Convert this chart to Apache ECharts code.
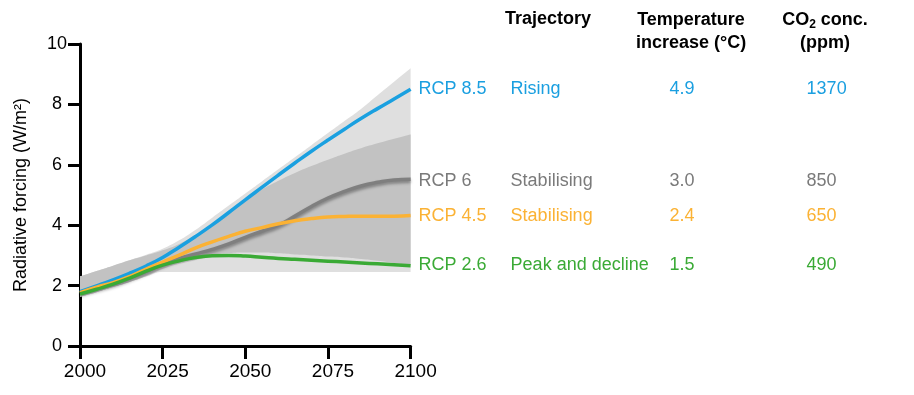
<!DOCTYPE html>
<html>
<head>
<meta charset="utf-8">
<script src="https://cdn.jsdelivr.net/npm/echarts@6/dist/echarts.min.js"></script>
<style>
html,body{margin:0;padding:0;background:#fff;}
#chart{width:914px;height:395px;}
</style>
</head>
<body>
<div id="chart"></div>
<script>
// ---------- data ----------
const years = ['2000','2005','2010','2015','2020','2025','2030','2035','2040','2045','2050','2055','2060','2065','2070','2075','2080','2085','2090','2095','2100'];

const rcp85 = [1.8, 1.99, 2.19, 2.41, 2.65, 2.93, 3.27, 3.63, 4.01, 4.42, 4.84, 5.25, 5.66, 6.06, 6.45, 6.82, 7.18, 7.53, 7.86, 8.18, 8.5];
const rcp6  = [1.75, 1.9, 2.05, 2.25, 2.47, 2.7, 2.9, 3.05, 3.2, 3.38, 3.6, 3.8, 4.0, 4.3, 4.62, 4.9, 5.12, 5.3, 5.42, 5.5, 5.52];
const rcp45 = [1.77, 1.95, 2.1, 2.3, 2.55, 2.78, 3.01, 3.25, 3.45, 3.63, 3.8, 3.92, 4.05, 4.15, 4.22, 4.27, 4.29, 4.3, 4.3, 4.3, 4.32];
const rcp26 = [1.72, 1.88, 2.05, 2.25, 2.48, 2.68, 2.82, 2.93, 2.99, 3.0, 2.98, 2.94, 2.9, 2.87, 2.84, 2.81, 2.78, 2.75, 2.72, 2.69, 2.66];

// uncertainty ranges (outer = light, inner = dark)
const outerLow  = [1.63, 1.78, 1.95, 2.12, 2.3, 2.45, 2.45, 2.45, 2.45, 2.45, 2.45, 2.45, 2.45, 2.45, 2.45, 2.45, 2.45, 2.45, 2.45, 2.45, 2.45];
const outerHigh = [2.3, 2.48, 2.66, 2.84, 3.02, 3.22, 3.5, 3.85, 4.25, 4.65, 5.05, 5.45, 5.85, 6.25, 6.65, 7.05, 7.45, 7.85, 8.3, 8.75, 9.2];
const innerLow  = [1.63, 1.78, 1.95, 2.12, 2.32, 2.55, 2.72, 2.85, 3.0, 3.08, 3.1, 3.1, 3.07, 3.03, 3.0, 2.96, 2.93, 2.88, 2.82, 2.75, 2.68];
const innerHigh = [2.3, 2.48, 2.66, 2.84, 3.0, 3.17, 3.38, 3.68, 4.01, 4.42, 4.84, 5.18, 5.47, 5.73, 5.96, 6.17, 6.37, 6.55, 6.71, 6.86, 7.0];

// table columns
const scenarioNames = ['RCP 8.5', 'RCP 6', 'RCP 4.5', 'RCP 2.6'];
const trajectories  = ['Rising', 'Stabilising', 'Stabilising', 'Peak and decline'];
const tempIncrease  = ['4.9', '3.0', '2.4', '1.5'];
const co2Conc       = ['1370', '850', '650', '490'];
const headerTrajectory = 'Trajectory';
const headerTemp = ['Temperature', 'increase (°C)'];
const headerCO2  = ['CO', '2', ' conc.', '(ppm)'];

const yAxisName = 'Radiative forcing (W/m²)';

// ---------- styles ----------
const FONT = 'Liberation Sans, Arial, sans-serif';
const colors = { rcp85: '#1aa0e0', rcp6: '#7f7f7f', rcp45: '#fbb234', rcp26: '#3aaa35' };
const textColors = ['#1a9fe0', '#7a7a7a', '#fbb234', '#3aaa35'];

function rowLabel(i) {
  return function () {
    return '{n|' + scenarioNames[i] + '}{t|' + trajectories[i] + '}{c|' + tempIncrease[i] + '}{p|' + co2Conc[i] + '}';
  };
}
function rowRich(i) {
  const c = textColors[i];
  return {
    n: { width: 92, color: c, fontSize: 18, fontFamily: FONT },
    t: { width: 159, color: c, fontSize: 18, fontFamily: FONT },
    c: { width: 137, color: c, fontSize: 18, fontFamily: FONT },
    p: { color: c, fontSize: 18, fontFamily: FONT }
  };
}

function lineSeries(name, data, color, idx, shadow, dy) {
  return {
    name: name,
    type: 'line',
    data: data,
    smooth: true,
    symbol: 'none',
    z: 5,
    lineStyle: Object.assign({ color: color, width: 3.5 },
      shadow ? { shadowColor: 'rgba(0,0,0,0.35)', shadowBlur: 3, shadowOffsetY: 2 } : {}),
    endLabel: {
      show: true,
      distance: 8,
      offset: [0, dy || 0],
      formatter: rowLabel(idx),
      rich: rowRich(idx)
    }
  };
}

const chart = echarts.init(document.getElementById('chart'), null, { renderer: 'canvas' });

const option = {
  animation: false,
  backgroundColor: '#fff',
  textStyle: { fontFamily: FONT },
  grid: { left: 80, top: 44, width: 330.6, height: 302, containLabel: false },
  xAxis: {
    type: 'category',
    data: years,
    boundaryGap: false,
    axisLine: { show: true, lineStyle: { color: '#000', width: 3 } },
    axisTick: { show: true, interval: 4, length: 13, lineStyle: { color: '#000', width: 3 } },
    axisLabel: { interval: 4, color: '#000', fontSize: 19, margin: 16, padding: [0, 0, 0, 10], fontFamily: FONT },
    splitLine: { show: false }
  },
  yAxis: {
    type: 'value',
    min: 0, max: 10, interval: 2,
    name: yAxisName,
    nameLocation: 'middle',
    nameGap: 50,
    nameRotate: 90,
    nameTextStyle: { color: '#000', fontSize: 18, fontFamily: FONT },
    axisLine: { show: true, lineStyle: { color: '#000', width: 3 } },
    axisTick: { show: true, length: 12, lineStyle: { color: '#000', width: 3 } },
    axisLabel: { color: '#000', fontSize: 18, align: 'center', margin: 23, fontFamily: FONT },
    splitLine: { show: false }
  },
  graphic: [
    { type: 'text', x: 505, y: 10, style: { text: headerTrajectory, fill: '#000', font: 'bold 18px ' + FONT } },
    { type: 'text', x: 691, y: 9, style: { text: headerTemp.join('\n'), fill: '#000', font: 'bold 18px ' + FONT, align: 'center', lineHeight: 23 } },
    { type: 'text', x: 825, y: 9, style: {
        text: '{b|' + headerCO2[0] + '}{s|' + headerCO2[1] + '}{b|' + headerCO2[2] + '}\n{b|' + headerCO2[3] + '}',
        align: 'center',
        rich: {
          b: { fontSize: 18, fontWeight: 'bold', fontFamily: FONT, color: '#000', lineHeight: 23 },
          s: { fontSize: 12, fontWeight: 'bold', fontFamily: FONT, color: '#000', lineHeight: 23, padding: [9, 0, 0, 0] }
        }
      } }
  ],
  series: [
    { type: 'line', stack: 'outer', data: outerLow, smooth: true, symbol: 'none', lineStyle: { width: 0, opacity: 0 }, silent: true, z: 1 },
    { type: 'line', stack: 'outer', data: outerHigh.map((v, i) => +(v - outerLow[i]).toFixed(3)), smooth: true, symbol: 'none',
      lineStyle: { width: 0, opacity: 0 }, areaStyle: { color: '#dfdfdf', opacity: 1 }, silent: true, z: 1 },
    { type: 'line', stack: 'inner', data: innerLow, smooth: true, symbol: 'none', lineStyle: { width: 0, opacity: 0 }, silent: true, z: 2 },
    { type: 'line', stack: 'inner', data: innerHigh.map((v, i) => +(v - innerLow[i]).toFixed(3)), smooth: true, symbol: 'none',
      lineStyle: { width: 0, opacity: 0 }, areaStyle: { color: '#c2c2c2', opacity: 1 }, silent: true, z: 2 },
    lineSeries('RCP 6', rcp6, colors.rcp6, 1, true, 2),
    lineSeries('RCP 8.5', rcp85, colors.rcp85, 0, false, 0),
    lineSeries('RCP 4.5', rcp45, colors.rcp45, 2, false, 0),
    lineSeries('RCP 2.6', rcp26, colors.rcp26, 3, false, -1)
  ]
};
chart.setOption(option);
</script>
</body>
</html>
